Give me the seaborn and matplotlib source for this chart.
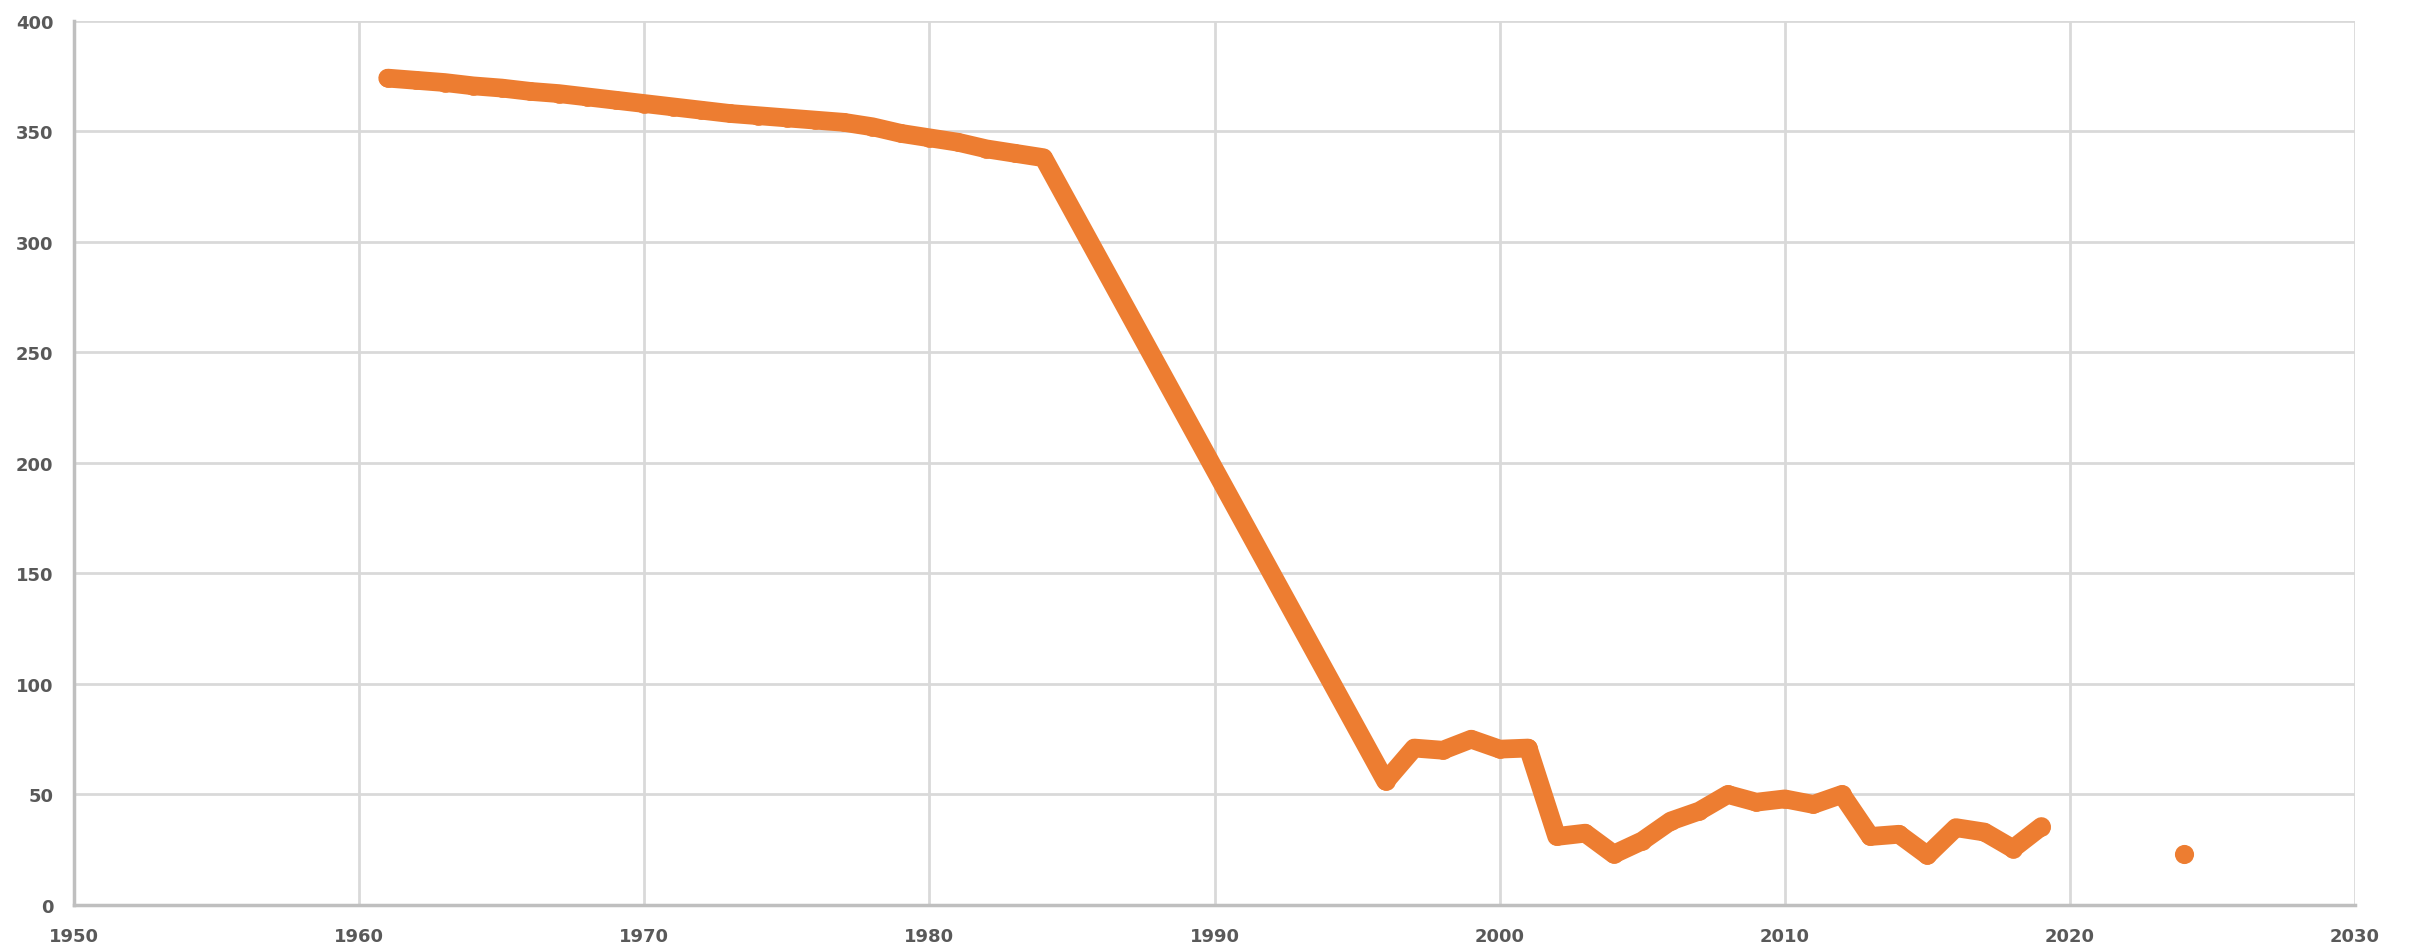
import numpy as np
import pandas as pd
import matplotlib
matplotlib.use("Agg")
import matplotlib.pyplot as plt
import seaborn as sns

# Set style
sns.set_style("whitegrid")
plt.rcParams["font.family"] = ["DejaVu Sans"]

# Data
years = [1961, 1962, 1963, 1964, 1965, 1966, 1967, 1968, 1969, 1970,
         1971, 1972, 1973, 1974, 1975, 1976, 1977, 1978, 1979, 1980,
         1981, 1982, 1983, 1984, 1996, 1997, 1998, 1999, 2000, 2001,
         2002, 2003, 2004, 2005, 2006, 2007, 2008, 2009, 2010, 2011,
         2012, 2013, 2014, 2015, 2016, 2017, 2018, 2019]
values = [374, 373, 372, 370.5, 369.5, 368, 367, 365.5, 364, 362.5,
          361, 359.5, 358, 357, 356, 355, 354, 352, 349, 347,
          345, 342, 340, 338, 56, 71, 70, 75, 70.5, 71,
          31, 32.5, 23, 29, 38, 42.5, 50, 46.5, 48, 45.5,
          50, 31, 32, 22.5, 35, 33, 25.5, 35.5]
last_year = [2024]
last_value = [23]

x_ticks = [1950, 1960, 1970, 1980, 1990, 2000, 2010, 2020, 2030]
y_ticks = [0, 50, 100, 150, 200, 250, 300, 350, 400]

main = pd.DataFrame({"year": years, "value": values})
latest = pd.DataFrame({"year": last_year, "value": last_value})

orange = "#ED7D31"

fig = plt.figure(figsize=(24.12, 9.53), dpi=100)
ax = fig.add_axes([0.0307, 0.0493, 0.9457, 0.928])

sns.lineplot(data=main, x="year", y="value", ax=ax, color=orange,
             marker="o", markeredgewidth=0)
line = ax.lines[0]
line.set_linewidth(13.5)
line.set_markersize(13.5)
line.set_solid_joinstyle("round")
line.set_solid_capstyle("round")

sns.scatterplot(data=latest, x="year", y="value", ax=ax, color=orange,
                s=190, linewidth=0)

ax.set_xlim(1950, 2030)
ax.set_ylim(0, 400)
ax.set_xticks(x_ticks)
ax.set_yticks(y_ticks)
ax.set_xlabel("")
ax.set_ylabel("")

ax.grid(True, color="#D9D9D9", linewidth=2)
for side in ["top", "right"]:
    ax.spines[side].set_visible(False)
for side in ["left", "bottom"]:
    ax.spines[side].set_color("#BFBFBF")
    ax.spines[side].set_linewidth(2.5)

ax.tick_params(axis="both", length=0, labelsize=13, labelcolor="#595959")
ax.tick_params(axis="y", pad=15)
ax.tick_params(axis="x", pad=16)
for lab in ax.get_xticklabels() + ax.get_yticklabels():
    lab.set_fontweight("bold")

plt.savefig("out.png", dpi=100)
plt.close()
